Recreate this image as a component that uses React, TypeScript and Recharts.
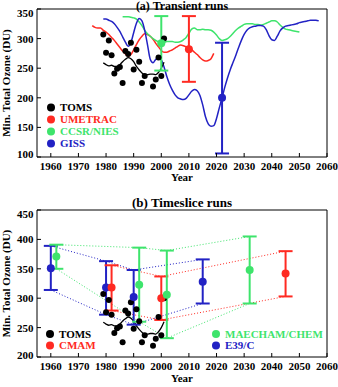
import { ComposedChart, Line, Scatter, ErrorBar, XAxis, YAxis, Legend } from 'recharts';

const FONT = '"Liberation Serif", "Times New Roman", Times, serif';
const INK = '#000000';
const RED = '#ff2a22';
const GREEN = '#3ee46c';
const BLUE = '#2222c4';

const YEAR_TICKS = [1960, 1970, 1980, 1990, 2000, 2010, 2020, 2030, 2040, 2050, 2060];
const TOP_OZONE_TICKS = [100, 150, 200, 250, 300, 350];
const BOTTOM_OZONE_TICKS = [200, 250, 300, 350, 400, 450];

// TOMS observed minimum ozone (DU), yearly points
const tomsYears = [1979, 1980, 1981, 1982, 1983, 1984, 1985, 1986, 1987, 1988, 1989, 1990, 1991, 1992, 1993, 1994, 1997, 1998, 1999, 2000, 2001];
const tomsMin = [307, 276, 297, 272, 241, 249, 252, 225, 279, 274, 293, 248, 281, 261, 225, 237, 219, 231, 268, 237, 300];

// TOMS smoothed curve
const tomsSmoothYears = [1979, 1980, 1981, 1982, 1983, 1984, 1985, 1986, 1987, 1988, 1989, 1990, 1991, 1992, 1993, 1994, 1995, 1996, 1997, 1998, 1999, 2000, 2001];
const tomsSmooth = [259, 256, 254, 255, 253, 253, 256, 261, 265, 268, 266, 261, 253, 247, 242, 239, 239, 240, 240, 239, 243, 250, 260];

// transient model runs
const umetracYears = [1975, 1976, 1977, 1978, 1979, 1980, 1981, 1982, 1983, 1984, 1985, 1986, 1987, 1988, 1989, 1990, 1991, 1992, 1993, 1994, 1995, 1996, 1997, 1998, 1999, 2000, 2001, 2002, 2003, 2004, 2005, 2006, 2007, 2008, 2009, 2010, 2011, 2012, 2013, 2014, 2015, 2016, 2017, 2018, 2019];
const umetrac = [322, 319, 318, 318, 314, 311, 307, 302, 297, 291, 285, 279, 274, 270, 273, 281, 290, 298, 304, 308, 307, 304, 299, 292, 286, 280, 277, 277, 279, 281, 284, 287, 289, 288, 286, 283, 281, 277, 273, 268, 264, 262, 263, 266, 275];

const ccsrYears = [1986, 1987, 1988, 1989, 1990, 1991, 1992, 1993, 1994, 1995, 1996, 1997, 1998, 1999, 2000, 2001, 2002, 2003, 2004, 2005, 2006, 2007, 2008, 2009, 2010, 2011, 2012, 2013, 2014, 2015, 2016, 2017, 2018, 2019, 2020, 2021, 2022, 2023, 2024, 2025, 2026, 2027, 2028, 2029, 2030, 2031, 2032, 2033, 2034, 2035, 2036, 2037, 2038, 2039, 2040, 2041, 2042, 2043, 2044, 2045, 2046, 2047, 2048, 2049, 2050];
const ccsr = [337, 337, 337, 336, 335, 333, 328, 322, 314, 308, 304, 300, 297, 294, 292, 293, 295, 295, 295, 294, 294, 295, 298, 302, 309, 316, 318, 315, 315, 316, 315, 315, 314, 311, 306, 300, 297, 298, 300, 304, 309, 314, 318, 321, 324, 325, 325, 325, 324, 324, 323, 324, 326, 328, 330, 330, 328, 323, 319, 316, 315, 314, 313, 312, 311];

const gissYears = [1979, 1980, 1981, 1982, 1983, 1984, 1985, 1986, 1987, 1988, 1989, 1990, 1991, 1992, 1993, 1994, 1995, 1996, 1997, 1998, 1999, 2000, 2001, 2002, 2003, 2004, 2005, 2006, 2007, 2008, 2009, 2010, 2011, 2012, 2013, 2014, 2015, 2016, 2017, 2018, 2019, 2020, 2021, 2022, 2023, 2024, 2025, 2026, 2027, 2028, 2029, 2030, 2031, 2032, 2033, 2034, 2035, 2036, 2037, 2038, 2039, 2040, 2041, 2042, 2043, 2044, 2045, 2046, 2047, 2048, 2049, 2050, 2051, 2052, 2053, 2054, 2055, 2056, 2057];
const giss = [333, 333, 331, 329, 325, 319, 312, 303, 294, 287, 293, 310, 326, 334, 330, 314, 290, 265, 259, 265, 267, 264, 252, 236, 223, 213, 205, 200, 198, 197, 199, 205, 211, 214, 212, 204, 188, 168, 156, 152, 153, 165, 183, 200, 218, 234, 248, 260, 272, 285, 297, 307, 314, 318, 320, 321, 322, 322, 321, 315, 305, 298, 297, 304, 313, 318, 321, 322, 323, 324, 325, 327, 328, 329, 330, 331, 331, 331, 330];

// model spread in the transient runs: year, mean, low, high
const transientBarYears = [2010, 2000, 2022];
const transientBarMean = [282, 292, 200];
const transientBarLow = [227, 246, 106];
const transientBarHigh = [338, 338, 293];
const transientBarColors = [RED, GREEN, BLUE];

// timeslice runs
const e39Years = [1960, 1980, 1990, 2015];
const e39Mean = [351, 318, 302, 328];
const e39Low = [314, 272, 255, 291];
const e39High = [389, 363, 348, 366];

const cmamYears = [1982, 2000, 2045];
const cmamMean = [318, 300, 342];
const cmamLow = [279, 263, 303];
const cmamHigh = [356, 337, 380];

const maechamYears = [1962, 1992, 2002, 2032];
const maechamMean = [371, 323, 306, 348];
const maechamLow = [350, 260, 232, 291];
const maechamHigh = [391, 386, 381, 405];

const pairs = (years: number[], values: number[]) => years.map((year, i) => ({ year, value: values[i] }));
const spread = (years: number[], mean: number[], low: number[], high: number[]) =>
  years.map((year, i) => ({ year, value: mean[i], err: [mean[i] - low[i], high[i] - mean[i]] }));

const tomsPoints = pairs(tomsYears, tomsMin);
const tomsLine = pairs(tomsSmoothYears, tomsSmooth);

const timeslices = [
  { name: 'E39/C', color: BLUE, years: e39Years, mean: e39Mean, low: e39Low, high: e39High },
  { name: 'CMAM', color: RED, years: cmamYears, mean: cmamMean, low: cmamLow, high: cmamHigh },
  { name: 'MAECHAM/CHEM', color: GREEN, years: maechamYears, mean: maechamMean, low: maechamLow, high: maechamHigh },
];

const textStyle = { fontFamily: FONT, fontWeight: 700 };

function makeTick(anchor: 'middle' | 'end', nudge: Record<number, number> = {}) {
  return (props: any) => {
    const { x, y, payload } = props;
    return (
      <text x={x} y={y + (nudge[payload.value] ?? 0)} dy="0.36em" textAnchor={anchor} fill={INK} style={{ ...textStyle, fontSize: 11 }}>
        {payload.value}
      </text>
    );
  };
}

function makeLegend(rows: { name: string; color: string; x: number; y: number }[], width: number, height: number) {
  return () => (
    <svg width={width} height={height} style={{ display: 'block' }}>
      {rows.map((r) => (
        <g key={r.name}>
          <circle cx={r.x} cy={r.y} r={4} fill={r.color} />
          <text x={r.x + 9} y={r.y} dy="0.36em" fill={r.color} style={{ ...textStyle, fontSize: 11 }}>
            {r.name}
          </text>
        </g>
      ))}
    </svg>
  );
}

const dotShape = (r: number, color: string) => (p: any) => <circle cx={p.cx} cy={p.cy} r={r} fill={color} />;

const axisLine = { stroke: INK, strokeWidth: 1 };
const labelStyle = { ...textStyle, fontSize: 11, fill: INK };

export default function App() {
  const topLegend = makeLegend(
    [
      { name: 'TOMS', color: INK, x: 51, y: 107.5 },
      { name: 'UMETRAC', color: RED, x: 51, y: 119.5 },
      { name: 'CCSR/NIES', color: GREEN, x: 51, y: 131.5 },
      { name: 'GISS', color: BLUE, x: 51, y: 143.5 },
    ],
    338,
    190,
  );
  const bottomLegend = makeLegend(
    [
      { name: 'TOMS', color: INK, x: 50, y: 144 },
      { name: 'CMAM', color: RED, x: 50, y: 155.5 },
      { name: 'MAECHAM/CHEM', color: GREEN, x: 216, y: 144 },
      { name: 'E39/C', color: BLUE, x: 216, y: 155.5 },
    ],
    338,
    197,
  );

  return (
    <div style={{ position: 'absolute', left: 0, top: 0, width: 338, height: 387, background: '#fff', fontFamily: FONT }}>
      {/* (a) transient runs */}
      <div style={{ position: 'absolute', left: 0, top: 0 }}>
        <ComposedChart width={338} height={190} margin={{ top: 0, right: 0, bottom: 0, left: 0 }}>
          <XAxis
            dataKey="year"
            type="number"
            domain={[1955, 2060]}
            ticks={YEAR_TICKS}
            interval={0}
            height={33}
            tickSize={-4}
            tickMargin={13}
            tick={makeTick('middle')}
            axisLine={axisLine}
            tickLine={axisLine}
            allowDataOverflow
            label={{ value: 'Year', position: 'insideBottom', offset: 9.5, style: labelStyle }}
          />
          <XAxis
            xAxisId="top"
            type="number"
            orientation="top"
            domain={[1955, 2060]}
            ticks={YEAR_TICKS}
            interval={0}
            height={9}
            tickSize={-4}
            tick={false}
            axisLine={axisLine}
            tickLine={axisLine}
            allowDataOverflow
            label={{ value: '(a) Transient runs', position: 'insideTop', offset: 1.2, style: { ...labelStyle, fontSize: 12 } }}
          />
          <YAxis
            type="number"
            domain={[100, 350]}
            ticks={TOP_OZONE_TICKS}
            interval={0}
            width={37}
            tickSize={-4}
            tickMargin={7.5}
            tick={makeTick('end', { 350: 4, 100: -3 })}
            axisLine={axisLine}
            tickLine={axisLine}
            allowDataOverflow
            label={{ value: 'Min. Total Ozone (DU)', angle: -90, position: 'insideLeft', offset: 6, style: { ...labelStyle, textAnchor: 'middle' } }}
          />
          <YAxis
            yAxisId="right"
            orientation="right"
            type="number"
            domain={[100, 350]}
            ticks={TOP_OZONE_TICKS}
            interval={0}
            width={11}
            tickSize={-4}
            tick={false}
            axisLine={axisLine}
            tickLine={axisLine}
            allowDataOverflow
          />
          <Legend layout="vertical" align="center" verticalAlign="middle" wrapperStyle={{ left: 0, top: 0, width: 338, height: 190, pointerEvents: 'none' }} content={topLegend} />

          <Line data={pairs(umetracYears, umetrac)} dataKey="value" type="monotone" stroke={RED} strokeWidth={1.5} dot={false} activeDot={false} isAnimationActive={false} />
          <Line data={pairs(ccsrYears, ccsr)} dataKey="value" type="monotone" stroke={GREEN} strokeWidth={1.5} dot={false} activeDot={false} isAnimationActive={false} />
          <Line data={pairs(gissYears, giss)} dataKey="value" type="monotone" stroke={BLUE} strokeWidth={1.5} dot={false} activeDot={false} isAnimationActive={false} />
          <Line data={tomsLine} dataKey="value" type="monotone" stroke={INK} strokeWidth={1.3} dot={false} activeDot={false} isAnimationActive={false} />
          <Scatter data={tomsPoints} dataKey="value" shape={dotShape(3, INK)} isAnimationActive={false} />
          {transientBarYears.map((year, i) => (
            <Scatter
              key={year}
              data={spread([year], [transientBarMean[i]], [transientBarLow[i]], [transientBarHigh[i]])}
              dataKey="value"
              shape={dotShape(4, transientBarColors[i])}
              isAnimationActive={false}
            >
              <ErrorBar dataKey="err" direction="y" width={7} stroke={transientBarColors[i]} strokeWidth={2} isAnimationActive={false} />
            </Scatter>
          ))}
        </ComposedChart>
      </div>

      {/* (b) timeslice runs */}
      <div style={{ position: 'absolute', left: 0, top: 190 }}>
        <ComposedChart width={338} height={197} margin={{ top: 0, right: 0, bottom: 0, left: 0 }}>
          <XAxis
            dataKey="year"
            type="number"
            domain={[1955, 2060]}
            ticks={YEAR_TICKS}
            interval={0}
            height={30}
            tickSize={-4}
            tickMargin={13}
            tick={makeTick('middle')}
            axisLine={axisLine}
            tickLine={axisLine}
            allowDataOverflow
            label={{ value: 'Year', position: 'insideBottom', offset: 5, style: labelStyle }}
          />
          <XAxis
            xAxisId="top"
            type="number"
            orientation="top"
            domain={[1955, 2060]}
            ticks={YEAR_TICKS}
            interval={0}
            height={20}
            tickSize={-4}
            tick={false}
            axisLine={axisLine}
            tickLine={axisLine}
            allowDataOverflow
            label={{ value: '(b) Timeslice runs', position: 'insideTop', offset: 7.3, style: { ...labelStyle, fontSize: 13 } }}
          />
          <YAxis
            type="number"
            domain={[200, 450]}
            ticks={BOTTOM_OZONE_TICKS}
            interval={0}
            width={37}
            tickSize={-4}
            tickMargin={7.5}
            tick={makeTick('end', { 450: 4, 200: -1.5 })}
            axisLine={axisLine}
            tickLine={axisLine}
            allowDataOverflow
            label={{ value: 'Min. Total Ozone (DU)', angle: -90, position: 'insideLeft', offset: 6, style: { ...labelStyle, textAnchor: 'middle' } }}
          />
          <YAxis
            yAxisId="right"
            orientation="right"
            type="number"
            domain={[200, 450]}
            ticks={BOTTOM_OZONE_TICKS}
            interval={0}
            width={11}
            tickSize={-4}
            tick={false}
            axisLine={axisLine}
            tickLine={axisLine}
            allowDataOverflow
          />
          <Legend layout="vertical" align="center" verticalAlign="middle" wrapperStyle={{ left: 0, top: 0, width: 338, height: 197, pointerEvents: 'none' }} content={bottomLegend} />

          {/* dotted envelopes joining the upper and lower ends of each model's bars */}
          {timeslices.flatMap((m) => [
            <Line key={m.name + '-hi'} data={pairs(m.years, m.high)} dataKey="value" type="linear" stroke={m.color} strokeWidth={1} strokeDasharray="1 2" dot={false} activeDot={false} isAnimationActive={false} />,
            <Line key={m.name + '-lo'} data={pairs(m.years, m.low)} dataKey="value" type="linear" stroke={m.color} strokeWidth={1} strokeDasharray="1 2" dot={false} activeDot={false} isAnimationActive={false} />,
          ])}
          <Line data={tomsLine} dataKey="value" type="monotone" stroke={INK} strokeWidth={1.3} dot={false} activeDot={false} isAnimationActive={false} />
          <Scatter data={tomsPoints} dataKey="value" shape={dotShape(3, INK)} isAnimationActive={false} />
          {timeslices.map((m) => (
            <Scatter key={m.name} data={spread(m.years, m.mean, m.low, m.high)} dataKey="value" shape={dotShape(4, m.color)} isAnimationActive={false}>
              <ErrorBar dataKey="err" direction="y" width={7} stroke={m.color} strokeWidth={2} isAnimationActive={false} />
            </Scatter>
          ))}
        </ComposedChart>
      </div>
    </div>
  );
}
